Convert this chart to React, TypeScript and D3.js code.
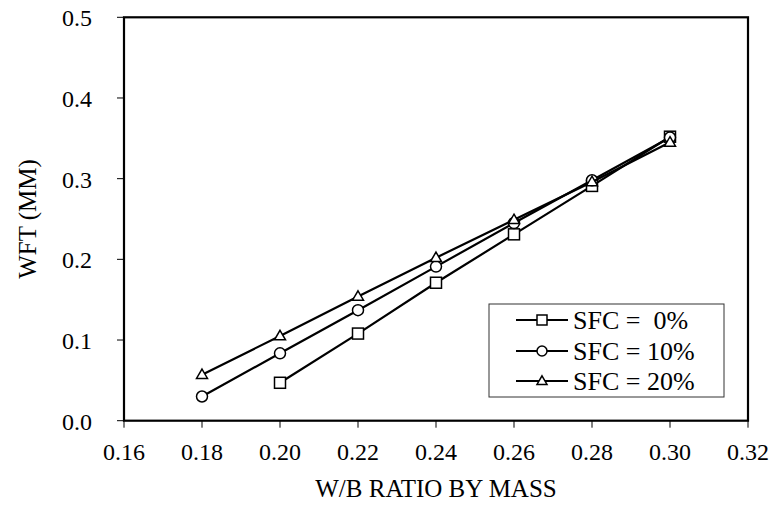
import React from "react";
import * as d3 from "d3";

// W/B ratio by mass
const xValues = [0.18, 0.2, 0.22, 0.24, 0.26, 0.28, 0.3];
const xTicks = [0.16, 0.18, 0.2, 0.22, 0.24, 0.26, 0.28, 0.3, 0.32];
const yTicks = [0, 0.1, 0.2, 0.3, 0.4, 0.5];

// WFT (mm) per series, null where no reading
const sfc0 = [null, 0.047, 0.108, 0.171, 0.231, 0.291, 0.352];
const sfc10 = [0.03, 0.0835, 0.137, 0.191, 0.245, 0.298, 0.351];
const sfc20 = [0.057, 0.105, 0.154, 0.202, 0.249, 0.296, 0.345];

const seriesNames = ["SFC =  0%", "SFC = 10%", "SFC = 20%"];
const seriesShapes = ["square", "circle", "triangle"];

const W = 769;
const H = 515;
const serif = '"Liberation Serif", "Times New Roman", Times, serif';

function Marker({ shape, cx, cy, s }: { shape: string; cx: number; cy: number; s: number }) {
  const h = s / 2;
  if (shape === "square")
    return <rect x={cx - h} y={cy - h} width={s} height={s} fill="#fff" stroke="#000" strokeWidth={1.5} />;
  if (shape === "circle")
    return <circle cx={cx} cy={cy} r={h} fill="#fff" stroke="#000" strokeWidth={1.5} />;
  const th = s * 0.86;
  return (
    <path
      d={`M${cx},${cy - th * 0.6}L${cx + h},${cy + th * 0.4}L${cx - h},${cy + th * 0.4}Z`}
      fill="#fff"
      stroke="#000"
      strokeWidth={1.5}
    />
  );
}

export default function App() {
  const x = d3.scaleLinear().domain([0.16, 0.32]).range([124, 748]);
  const y = d3.scaleLinear().domain([0, 0.5]).range([420.7, 17.3]);

  const all = [sfc0, sfc10, sfc20];
  const series = all.map((vals, i) => ({
    name: seriesNames[i],
    shape: seriesShapes[i],
    pts: xValues
      .map((xv, j) => ({ x: xv, y: vals[j] }))
      .filter((d) => d.y !== null) as { x: number; y: number }[],
  }));

  const line = d3
    .line<{ x: number; y: number }>()
    .x((d) => x(d.x))
    .y((d) => y(d.y));

  const [x0, x1] = x.range();
  const [y0, y1] = y.range();

  const txt = { fontFamily: serif, fill: "#000" } as React.CSSProperties;

  // legend
  const lg = { x: 489, y: 304, w: 235, h: 93 };
  const rowY = [320, 351, 381];

  return (
    <svg width={W} height={H} style={{ position: "absolute", left: 0, top: 0, background: "#fff" }}>
      <rect width={W} height={H} fill="#fff" />

      {/* series */}
      {series.map((s) => (
        <g key={s.name}>
          <path d={line(s.pts) || ""} fill="none" stroke="#000" strokeWidth={2.2} />
          {s.pts.map((p, k) => (
            <Marker key={k} shape={s.shape} cx={x(p.x)} cy={y(p.y)} s={11} />
          ))}
        </g>
      ))}

      {/* frame */}
      <rect x={x0} y={y1} width={x1 - x0} height={y0 - y1} fill="none" stroke="#000" strokeWidth={2.2} />

      {/* y axis */}
      {yTicks.map((t) => (
        <g key={t}>
          <line x1={x0 - 7} x2={x0} y1={y(t)} y2={y(t)} stroke="#000" strokeWidth={1} />
          <text x={92} y={y(t) + 9} textAnchor="end" fontSize={24} style={txt}>
            {d3.format(".1f")(t)}
          </text>
        </g>
      ))}

      {/* x axis */}
      {xTicks.map((t) => (
        <g key={t}>
          <line x1={x(t)} x2={x(t)} y1={y0} y2={y0 + 7} stroke="#000" strokeWidth={1} />
          <text x={x(t)} y={460} textAnchor="middle" fontSize={24} style={txt}>
            {d3.format(".2f")(t)}
          </text>
        </g>
      ))}

      <text x={(x0 + x1) / 2} y={497} textAnchor="middle" fontSize={25} style={txt}>
        W/B RATIO BY MASS
      </text>
      <text transform={`translate(36,${(y0 + y1) / 2}) rotate(-90)`} textAnchor="middle" fontSize={25} style={txt}>
        WFT (MM)
      </text>

      {/* legend */}
      <rect x={lg.x} y={lg.y} width={lg.w} height={lg.h} fill="#fff" stroke="#333" strokeWidth={1} />
      {series.map((s, i) => (
        <g key={s.name}>
          <line x1={516} x2={568} y1={rowY[i]} y2={rowY[i]} stroke="#000" strokeWidth={2} />
          <Marker shape={s.shape} cx={542} cy={rowY[i]} s={10} />
          <text x={573} y={rowY[i] + 9} fontSize={26} style={{ ...txt, whiteSpace: "pre" }}>
            {s.name}
          </text>
        </g>
      ))}
    </svg>
  );
}
